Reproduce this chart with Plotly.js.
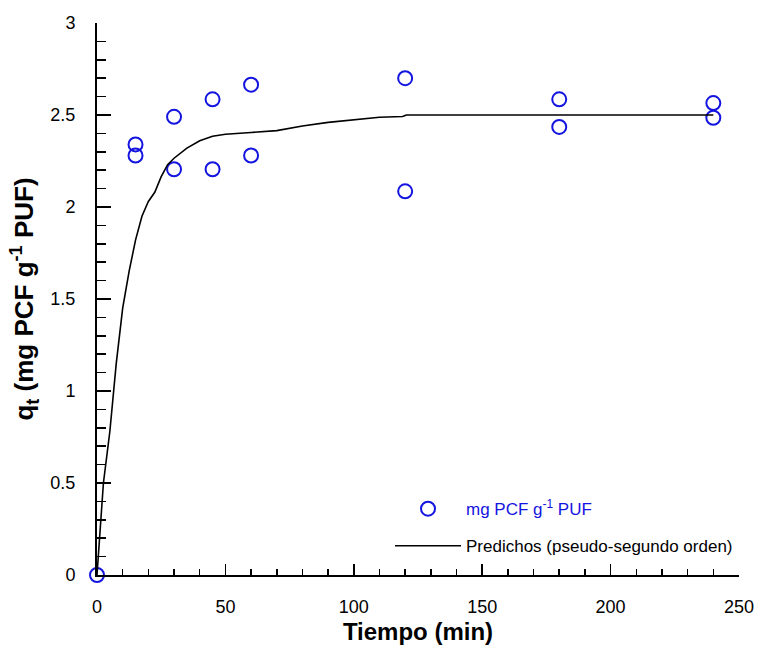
<!DOCTYPE html>
<html>
<head>
<meta charset="utf-8">
<script src="https://cdn.plot.ly/plotly-3.0.1.min.js"></script>
<style>html,body{margin:0;padding:0;background:#fff;}#chart{width:758px;height:650px;}</style>
</head>
<body>
<div id="chart"></div>
<script>
// Experimental data
const tiempoExp = [0, 15, 15, 30, 30, 45, 45, 60, 60, 120, 120, 180, 180, 240, 240];
const qtExp = [0, 2.34, 2.28, 2.49, 2.205, 2.585, 2.205, 2.665, 2.28, 2.70, 2.085, 2.585, 2.435, 2.565, 2.485];

// Predicted curve (pseudo-second order)
const tiempoPred = [0, 2.5, 5, 7.5, 10, 12.5, 15, 17.5, 20, 22.5, 25, 27.5, 30, 35, 40, 45, 50, 55, 60, 70, 80, 90, 100, 110, 119, 120.5, 240];
const qtPred = [0, 0.5, 0.78, 1.15, 1.45, 1.65, 1.82, 1.95, 2.03, 2.08, 2.165, 2.23, 2.265, 2.32, 2.36, 2.385, 2.395, 2.398, 2.405, 2.415, 2.44, 2.46, 2.475, 2.488, 2.492, 2.5, 2.5];

const xTicks = [0, 50, 100, 150, 200, 250];
const yTicks = [0, 0.5, 1, 1.5, 2, 2.5, 3];

const font = "Liberation Sans, Arial, sans-serif";

const traces = [
  {
    x: tiempoExp, y: qtExp, type: 'scatter', mode: 'markers',
    name: '<span style="color:#1414e0">mg PCF g<sup>-1</sup> PUF</span>',
    legendgroup: 'a',
    marker: {symbol: 'circle-open', size: 14, color: '#1414e0', line: {width: 2, color: '#1414e0'}},
    cliponaxis: false
  },
  {
    x: tiempoPred, y: qtPred, type: 'scatter', mode: 'lines',
    name: 'Predichos (pseudo-segundo orden)',
    legendgroup: 'b',
    line: {color: '#000', width: 1.6},
    cliponaxis: false
  }
];

const layout = {
  width: 758, height: 650,
  margin: {l: 97, r: 19, t: 23, b: 75},
  paper_bgcolor: '#fff', plot_bgcolor: '#fff',
  font: {family: font, size: 18, color: '#000'},
  showlegend: true,
  legend: {
    x: 0.4564, y: 0.152, xanchor: 'left', yanchor: 'top',
    bgcolor: 'rgba(0,0,0,0)', borderwidth: 0,
    font: {family: font, size: 17, color: '#000'},
    itemwidth: 66,
    tracegroupgap: 12
  },
  xaxis: {
    range: [0, 250], tickvals: xTicks, ticktext: xTicks.map(String),
    showgrid: false, zeroline: false, showline: true, linecolor: '#000', linewidth: 2,
    ticks: 'inside', ticklen: 11, tickwidth: 1.5, tickcolor: '#000',
    minor: {dtick: 10, tick0: 0, ticks: 'inside', ticklen: 6, tickwidth: 1.5, tickcolor: '#000'},
    ticklabelstandoff: 14,
    tickfont: {size: 18},
    title: {text: '<b>Tiempo (min)</b>', font: {size: 24}, standoff: 8}
  },
  yaxis: {
    range: [0, 3], tickvals: yTicks, ticktext: yTicks.map(String),
    showgrid: false, zeroline: false, showline: true, linecolor: '#000', linewidth: 2,
    ticks: 'inside', ticklen: 14, tickwidth: 1.5, tickcolor: '#000',
    minor: {dtick: 0.1, tick0: 0, ticks: 'inside', ticklen: 9, tickwidth: 1.5, tickcolor: '#000'},
    ticklabelstandoff: 16,
    tickfont: {size: 18},
    title: {text: '<b>q<sub>t</sub> (mg PCF g<sup>-1</sup> PUF)</b>', font: {size: 26}, standoff: 9}
  }
};

Plotly.newPlot('chart', traces, layout, {displayModeBar: false, staticPlot: true});
</script>
</body>
</html>
